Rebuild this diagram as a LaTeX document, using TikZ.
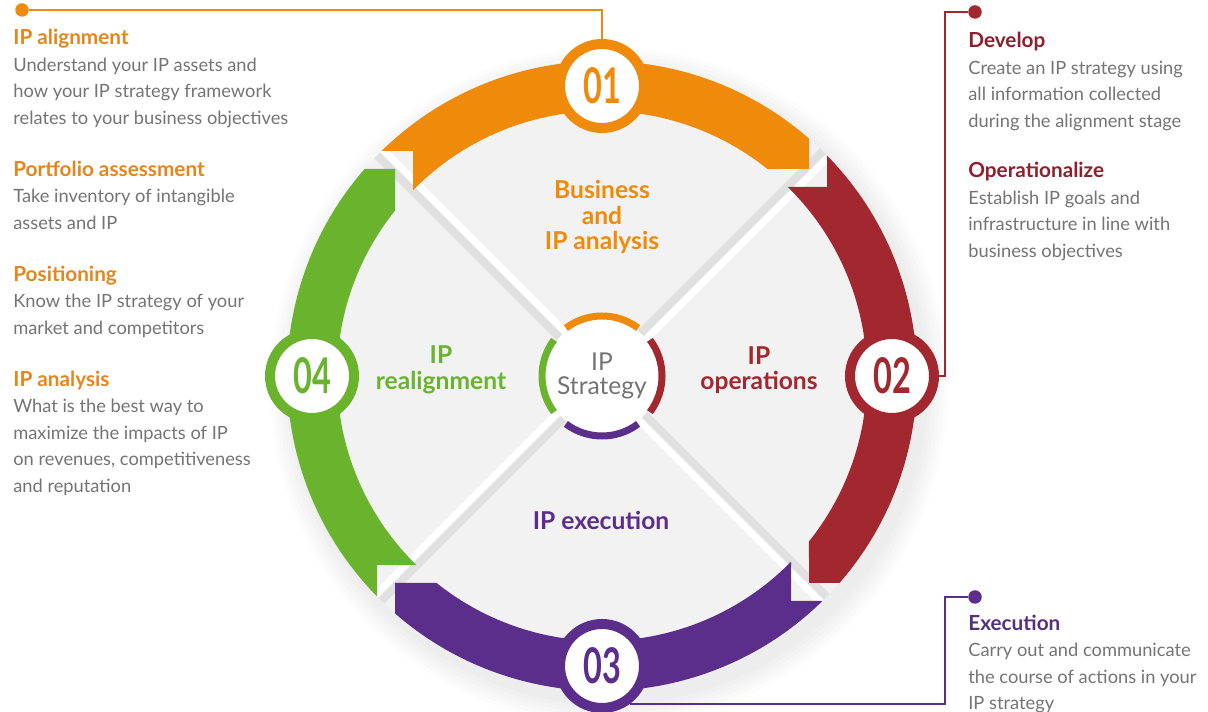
\documentclass[tikz,border=0pt]{standalone}
\usepackage{fontspec}
\setmainfont{Lato}
\usetikzlibrary{positioning,calc}
\definecolor{disk}{HTML}{F2F2F2}
\definecolor{fold}{HTML}{E0E0E0}
\definecolor{body}{HTML}{747474}
\definecolor{stepA}{HTML}{EF8A0B}
\definecolor{stepB}{HTML}{A3272F}
\definecolor{stepC}{HTML}{5C2E8C}
\definecolor{stepD}{HTML}{6AB42D}
\definecolor{headA}{HTML}{E5861C}
\definecolor{headB}{HTML}{8E1F2C}
\definecolor{headC}{HTML}{55307F}
\newcommand{\RingOut}{3.15}
\newcommand{\RingIn}{2.65}
\newcommand{\RingMid}{2.9}
\newcommand{\TipXY}{2.07}
\newcommand{\NotchShift}{0.18}

\begin{document}
\begin{tikzpicture}[x=2cm, y=2cm,
    badge/.style={circle, line width=0.2cm, fill=white, minimum size=1.68cm, inner sep=0pt, font=\fontsize{28}{28}\selectfont\bfseries},
    note/.style={anchor=north west, align=left, inner sep=0pt, text=body, font=\fontsize{10.4}{15.1}\selectfont},
    phase/.style={align=center, inner sep=0pt, font=\fontsize{14}{14.5}\selectfont\bfseries},
    lead/.style={line width=1.1pt},
    pin/.style={circle, inner sep=0pt, minimum size=0.27cm},
  ]
\useasboundingbox (0,0) rectangle (12.08,7.12);
\coordinate (hub) at (6.02,3.36);

% soft shadow, grey disk and the four folds
\foreach \s in {1,...,6}
  \fill[black, opacity=0.012] ($(hub)+(0.07,-0.1)$) circle ({\RingOut+0.04*\s});
\fill[disk] (hub) circle (\RingOut);
\foreach \a in {45,135,225,315} {
  \draw[fold, line width=8pt] (hub) -- ++(\a:\RingOut);
  \draw[white, line width=4pt] ($(hub)+(\a-90:0.05)$) -- ++(\a:\RingOut);
}

% the four arrows of the ring: tail notch at the start, square tip at the end
\pgfmathsetmacro{\ax}{\TipXY-\NotchShift}
\pgfmathsetmacro{\ay}{\TipXY+\NotchShift}
\pgfmathsetmacro{\aTailOut}{180-asin(\ay/\RingOut)}
\pgfmathsetmacro{\aTailIn}{180-acos(\ax/\RingIn)}
\pgfmathsetmacro{\aHeadOut}{acos(\TipXY/\RingOut)}
\pgfmathsetmacro{\aHeadIn}{asin(\TipXY/\RingIn)}
\foreach \k/\col in {0/stepA, 1/stepB, 2/stepC, 3/stepD} {
  \begin{scope}[shift={(hub)}, rotate=-90*\k]
    \fill[\col] (\aTailOut:\RingOut) arc[start angle=\aTailOut, end angle=\aHeadOut, radius=\RingOut]
      -- (\TipXY,\TipXY) -- (\aHeadIn:\RingIn)
      arc[start angle=\aHeadIn, end angle=\aTailIn, radius=\RingIn]
      -- (-\ax,\ay) -- cycle;
  \end{scope}
}

% step badges on the ring
\foreach \n/\col/\num/\a in {1/stepA/01/90, 2/stepB/02/0, 3/stepC/03/-90, 4/stepD/04/180}
  \node[badge, draw=\col, text=\col] (b\n) at ($(hub)+(\a:\RingMid)$) {\scalebox{0.66}[1]{\num}};

% centre
\node[circle, fill=white, minimum size=2.3cm, inner sep=0pt, text=body, align=center,
  font=\fontsize{14}{13.5}\selectfont] (core) at (hub) {IP\\Strategy};
\foreach \a/\col in {90/stepA, 0/stepB, -90/stepC, 180/stepD}
  \draw[\col, line width=0.14cm] ($(hub)+(\a+37:0.6)$) arc[start angle=\a+37, end angle=\a-37, radius=0.6];

\node[phase, text=stepA] (phA) at (6.02,4.95) {Business\\and\\IP analysis};
\node[phase, text=stepB] (phB) at (7.59,3.42) {IP\\operations};
\node[phase, text=stepC] (phC) at (6.01,1.92) {IP execution};
\node[phase, text=stepD] (phD) at (4.41,3.42) {IP\\realignment};

% leads to the notes
\node[pin, fill=stepA] (pin1) at (0.22,7.02) {};
\draw[lead, stepA] (pin1) -| (b1.north);
\node[pin, fill=stepB] (pin2) at (9.75,7.00) {};
\draw[lead, stepB] (pin2.west) -- ++(-0.23,0) |- (b2.east);
\node[pin, fill=stepC] (pin3) at (9.75,1.15) {};
\draw[lead, stepC] (pin3.west) -- ++(-0.23,0) |- (b3.-54);

% notes
\foreach \i/\x/\y/\col/\title/\txt in {
    1/0.13/6.83/headA/{IP alignment}/{Understand your IP assets and\\how your IP strategy framework\\relates to your business objectives},
    2/0.13/5.515/headA/{Portfolio assessment}/{Take inventory of intangible\\assets and IP},
    3/0.13/4.465/headA/{Positioning}/{Know the IP strategy of your\\market and competitors},
    4/0.13/3.415/headA/{IP analysis}/{What is the best way to\\maximize the impacts of IP\\on revenues, competitiveness\\and reputation},
    5/9.68/6.80/headB/{Develop}/{Create an IP strategy using\\all information collected\\during the alignment stage},
    6/9.68/5.50/headB/{Operationalize}/{Establish IP goals and\\infrastructure in line with\\business objectives},
    7/9.68/0.975/headC/{Execution}/{Carry out and communicate\\the course of actions in your\\IP strategy}}
  \node[note] (note\i) at (\x,\y) {{\color{\col}\fontsize{11.8}{15.1}\selectfont\bfseries\title}\\\txt};

\end{tikzpicture}
\end{document}
